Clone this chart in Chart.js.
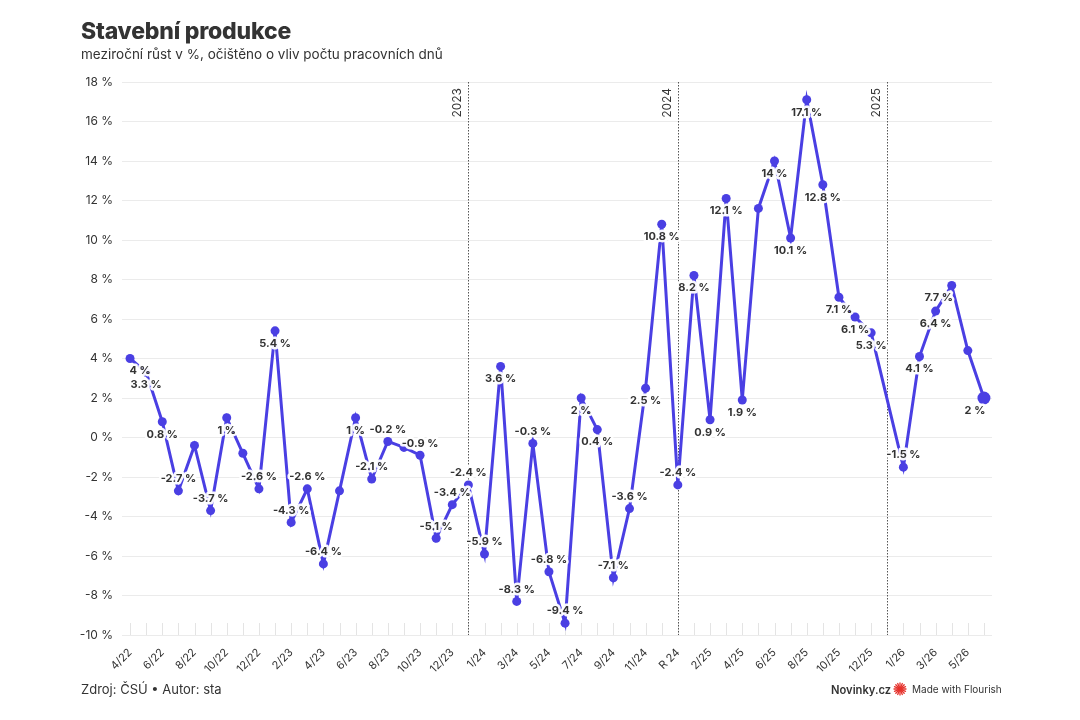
<!DOCTYPE html>
<html>
<head>
<meta charset="utf-8">
<script src="https://cdn.jsdelivr.net/npm/chart.js@4.4.1/dist/chart.umd.min.js"></script>
<style>
  html, body { margin:0; padding:0; background:#fff; width:1080px; height:720px; overflow:hidden; font-family: Inter, "Noto Sans", sans-serif; color:#333; }
  #title { position:absolute; left:81px; top:17px; font-size:23px; font-weight:800; color:#333; letter-spacing:-0.2px; white-space:nowrap; }
  #subtitle { position:absolute; left:81px; top:46px; font-size:13.5px; font-weight:400; color:#333; white-space:nowrap; }
  #wrap { position:absolute; left:0; top:0; width:1080px; height:720px; }
  #source { position:absolute; left:81px; top:681px; font-size:13px; color:#333; white-space:nowrap; }
  #brand { position:absolute; left:831px; top:683px; font-size:11.2px; font-weight:600; color:#333; white-space:nowrap; }
  #flourish { position:absolute; left:893px; top:682px; font-size:10px; color:#333; white-space:nowrap; display:flex; align-items:center; }
  #flourish svg { margin-right:5px; }
</style>
</head>
<body>
<div id="wrap"><canvas id="c"></canvas></div>
<div id="title">Stavební produkce</div>
<div id="subtitle">meziroční růst v %, očištěno o vliv počtu pracovních dnů</div>
<div id="source">Zdroj: ČSÚ • Autor: sta</div>
<div id="brand">Novinky.cz</div>
<div id="flourish"><svg width="14" height="14" viewBox="-7 -7 14 14"><g stroke="#e5302a" stroke-width="1.3" stroke-linecap="round">
<line x1="0" y1="-6" x2="0" y2="6"/><line x1="-6" y1="0" x2="6" y2="0"/><line x1="-4.2" y1="-4.2" x2="4.2" y2="4.2"/><line x1="-4.2" y1="4.2" x2="4.2" y2="-4.2"/>
<line x1="-2.3" y1="-5.5" x2="2.3" y2="5.5"/><line x1="2.3" y1="-5.5" x2="-2.3" y2="5.5"/><line x1="-5.5" y1="-2.3" x2="5.5" y2="2.3"/><line x1="-5.5" y1="2.3" x2="5.5" y2="-2.3"/></g><circle r="2.6" fill="#e5302a"/></svg>Made with Flourish</div>
<script>
// ---- data ----
const categories = [
  "4/22","5/22","6/22","7/22","8/22","9/22","10/22","11/22","12/22",
  "1/23","2/23","3/23","4/23","5/23","6/23","7/23","8/23","9/23","10/23","11/23","12/23","R 23",
  "1/24","2/24","3/24","4/24","5/24","6/24","7/24","8/24","9/24","10/24","11/24","12/24","R 24",
  "1/25","2/25","3/25","4/25","5/25","6/25","7/25","8/25","9/25","10/25","11/25","12/25","R 25",
  "1/26","2/26","3/26","4/26","5/26","6/26"
];
const values2022 = [4, 3.3, 0.8, -2.7, -0.4, -3.7, 1, -0.8, -2.6];
const values2023 = [5.4, -4.3, -2.6, -6.4, -2.7, 1, -2.1, -0.2, -0.5, -0.9, -5.1, -3.4, -2.4];
const values2024 = [-5.9, 3.6, -8.3, -0.3, -6.8, -9.4, 2, 0.4, -7.1, -3.6, 2.5, 10.8, -2.4];
const values2025 = [8.2, 0.9, 12.1, 1.9, 11.6, 14, 10.1, 17.1, 12.8, 7.1, 6.1, 5.3, null];
const values2026 = [-1.5, 4.1, 6.4, 7.7, 4.4, 2];
const values = [...values2022, ...values2023, ...values2024, ...values2025, ...values2026];
const unlabelledCats = ["8/22", "11/22", "5/23", "9/23", "5/25", "5/26"];
const yearLineCats = ["R 23", "R 24", "R 25"];
const yearLineLabels = ["2023", "2024", "2025"];
const yTickMin = -10, yTickMax = 18, yTickStep = 2;

// ---- style ----
const LINE_COLOR = "#4a3fe3";
const TEXT = "#333333";
const labelNudge = { "4/22": 10, "4/26": -13, "6/26": -9 };
Chart.defaults.font.family = "Inter, 'Noto Sans', sans-serif";
Chart.defaults.color = TEXT;

const xTickMarks = {
  id: "xTickMarks",
  beforeDatasetsDraw(chart) {
    const { ctx, chartArea: a, scales: { x } } = chart;
    ctx.save();
    ctx.strokeStyle = "#e4e4e4";
    ctx.lineWidth = 1;
    categories.forEach((c, i) => {
      const px = Math.round(x.getPixelForValue(i)) + 0.5;
      ctx.beginPath(); ctx.moveTo(px, a.bottom); ctx.lineTo(px, a.bottom - 12); ctx.stroke();
    });
    ctx.restore();
  }
};

const yearLines = {
  id: "yearLines",
  beforeDatasetsDraw(chart) {
    const { ctx, chartArea: a, scales: { x } } = chart;
    ctx.save();
    yearLineCats.forEach((cat, k) => {
      const px = Math.round(x.getPixelForValue(categories.indexOf(cat))) + 0.5;
      ctx.strokeStyle = "#555";
      ctx.lineWidth = 1;
      ctx.setLineDash([1.5, 1.5]);
      ctx.beginPath(); ctx.moveTo(px, a.top); ctx.lineTo(px, a.bottom); ctx.stroke();
      ctx.setLineDash([]);
      ctx.save();
      ctx.translate(px - 5, a.top + 6);
      ctx.rotate(-Math.PI / 2);
      ctx.font = "12px Inter, 'Noto Sans', sans-serif";
      ctx.fillStyle = TEXT;
      ctx.textAlign = "right";
      ctx.textBaseline = "bottom";
      ctx.fillText(yearLineLabels[k], 0, 0);
      ctx.restore();
    });
    ctx.restore();
  }
};

const valueLabels = {
  id: "valueLabels",
  afterDatasetsDraw(chart) {
    const meta = chart.getDatasetMeta(0);
    const ctx = chart.ctx;
    ctx.save();
    ctx.font = "bold 11px Inter, 'Noto Sans', sans-serif";
    ctx.textAlign = "center";
    ctx.textBaseline = "middle";
    ctx.lineJoin = "round";
    meta.data.forEach((pt, i) => {
      const v = values[i];
      const cat = categories[i];
      if (v === null || unlabelledCats.includes(cat)) return;
      const txt = v + " %";
      const px = pt.x + (labelNudge[cat] || 0);
      const py = pt.y + (v < 0 ? -12 : 12.5);
      ctx.lineWidth = 5;
      ctx.strokeStyle = "rgba(255,255,255,0.95)";
      ctx.strokeText(txt, px, py);
      ctx.fillStyle = TEXT;
      ctx.fillText(txt, px, py);
    });
    ctx.restore();
  }
};

new Chart(document.getElementById("c"), {
  type: "line",
  data: {
    labels: categories,
    datasets: [{
      data: values,
      borderColor: LINE_COLOR,
      backgroundColor: LINE_COLOR,
      borderWidth: 3,
      pointRadius: (c) => c.dataIndex === values.length - 1 ? 6.5 : 4.5,
      pointBorderWidth: 0,
      pointBackgroundColor: LINE_COLOR,
      spanGaps: true,
      tension: 0,
      clip: false
    }]
  },
  options: {
    responsive: true,
    maintainAspectRatio: false,
    animation: false,
    events: [],
    layout: { padding: { top: 82, right: 88, bottom: 0, left: 0 } },
    plugins: { legend: { display: false }, tooltip: { enabled: false }, title: { display: false } },
    scales: {
      x: {
        type: "category",
        offset: true,
        grid: { display: false },
        border: { display: false },
        ticks: {
          autoSkip: false,
          minRotation: 45,
          maxRotation: 45,
          padding: 3,
          color: TEXT,
          font: { size: 11 },
          callback: (v, i) => (i % 2 === 0 ? categories[i] : "")
        },
        afterFit: (s) => { s.height = 85; }
      },
      y: {
        min: yTickMin,
        max: yTickMax,
        ticks: {
          stepSize: yTickStep,
          padding: 9,
          color: TEXT,
          font: { size: 12 },
          callback: (v) => v + " %"
        },
        grid: { color: "#ebebeb", drawTicks: false, lineWidth: 1 },
        border: { display: false },
        afterFit: (s) => { s.width = 122; }
      }
    }
  },
  plugins: [xTickMarks, yearLines, valueLabels]
});
</script>
</body>
</html>
